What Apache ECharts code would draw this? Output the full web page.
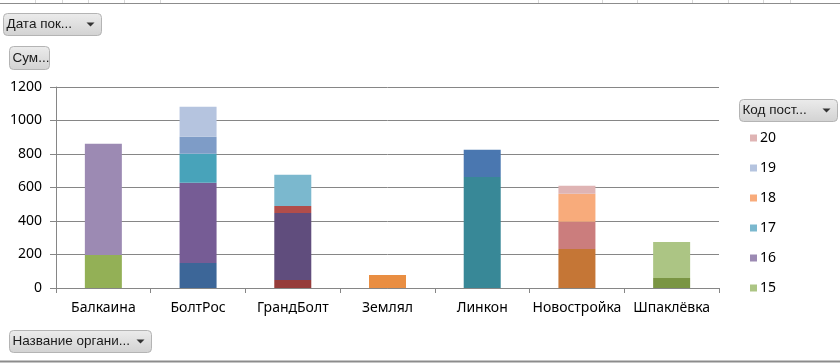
<!DOCTYPE html>
<html>
<head>
<meta charset="utf-8">
<script src="https://cdn.jsdelivr.net/npm/echarts@6/dist/echarts.min.js"></script>
<style>
  html, body { margin: 0; padding: 0; background: #fff; }
  #myChart { width: 840px; height: 363px; }
</style>
</head>
<body>
<div id="myChart"></div>
<script>
// organisations (x axis)
const orgs = ['Балкаина', 'БолтРос', 'ГрандБолт', 'Землял', 'Линкон', 'Новостройка', 'Шпаклёвка']
// supplier codes, one series each; stacked bottom -> top in this order
const codes = ['1', '2', '3', '4', '5', '6', '7', '8', '9', '10', '11', '12', '13', '14', '15', '16', '17', '18', '19', '20']
// which organisation every code belongs to, and its sum
const codeOrg = ['БолтРос', 'ГрандБолт', 'Шпаклёвка', 'ГрандБолт', 'Линкон', 'Новостройка', 'Линкон', 'ГрандБолт', 'Балкаина', 'БолтРос',
  'БолтРос', 'Землял', 'БолтРос', 'Новостройка', 'Шпаклёвка', 'Балкаина', 'ГрандБолт', 'Новостройка', 'БолтРос', 'Новостройка']
const codeSum = [150, 48, 60, 400, 662, 233, 163, 42, 197, 478, 173, 78, 102, 162, 215, 664, 186, 167, 179, 48]
const yTicks = [0, 200, 400, 600, 800, 1000, 1200]
// legend only fits the last six codes
const legendCodes = ['20', '19', '18', '17', '16', '15']

const colors = ['#3C6698', '#963C3A', '#7A9543', '#604D7D', '#388897', '#C57636', '#4A77B0', '#B14D4A', '#93B056', '#765C95',
  '#48A3BA', '#E98E42', '#7E9CC7', '#CB7D7D', '#ACC584', '#9C8AB3', '#7BB8CE', '#F8AB7B', '#B5C4DF', '#DFB4B4']

const font = 'Noto Sans'
const btnFont = 'Liberation Sans'

function fieldButton (x, y, w, h, label, arrow) {
  let children = [
    {
      type: 'rect',
      shape: { x: 0, y: 0, width: w, height: h, r: 4 },
      style: {
        fill: new echarts.graphic.LinearGradient(0, 0, 0, 1, [
          { offset: 0, color: '#ececec' },
          { offset: 1, color: '#d2d2d2' }
        ]),
        stroke: '#b4b4b4',
        lineWidth: 1
      }
    },
    {
      type: 'text',
      x: 3,
      y: h / 2,
      style: { text: label, font: '13.5px ' + btnFont, fill: '#1a1a1a', textVerticalAlign: 'middle' }
    }
  ]
  if (arrow) {
    children.push({
      type: 'polygon',
      shape: { points: [[w - 15, h / 2 - 2], [w - 7, h / 2 - 2], [w - 11, h / 2 + 2]] },
      style: { fill: '#333' }
    })
  }
  return { type: 'group', x: x, y: y, children: children }
}

let myChart = echarts.init(document.getElementById('myChart'))

let series = codes.map(function (code, i) {
  let data = orgs.map(function (org) {
    return codeOrg[i] === org ? codeSum[i] : '-'
  })
  return {
    name: code,
    type: 'bar',
    stack: 'sum',
    barWidth: 37,
    itemStyle: { color: colors[i] },
    emphasis: { disabled: true },
    data: data
  }
})

let cellLines = []
;[35, 62, 88, 124, 160, 538, 602, 637, 692, 728, 763, 790].forEach(function (x) {
  cellLines.push({ type: 'line', shape: { x1: x + 0.5, y1: 0, x2: x + 0.5, y2: 3 }, style: { stroke: '#d8d8d8', lineWidth: 1 } })
})

myChart.setOption({
  animation: false,
  textStyle: { fontFamily: font },
  color: colors,
  grid: { left: 56, right: 121, top: 87, bottom: 75 },
  legend: {
    orient: 'vertical',
    left: 745,
    top: 125,
    data: legendCodes.map(function (c) {
      return { name: c, itemStyle: { color: colors[codes.indexOf(c)], borderWidth: 0 } }
    }),
    icon: 'rect',
    itemWidth: 7,
    itemHeight: 7,
    itemGap: 14,
    itemStyle: { borderWidth: 0 },
    textStyle: { fontFamily: font, fontSize: 14, color: '#000', lineHeight: 16, padding: [0, 0, 0, -2] }
  },
  xAxis: {
    type: 'category',
    data: orgs,
    axisLine: { lineStyle: { color: '#868686', width: 1 } },
    axisTick: { show: true, length: 5, lineStyle: { color: '#868686' } },
    axisLabel: { color: '#000', fontSize: 14, margin: 13, interval: 0 }
  },
  yAxis: {
    type: 'value',
    min: yTicks[0],
    max: yTicks[yTicks.length - 1],
    interval: 200,
    axisLine: { show: true, lineStyle: { color: '#868686', width: 1 } },
    axisTick: { show: true, length: 6, lineStyle: { color: '#868686' } },
    axisLabel: { color: '#000', fontSize: 14, margin: 14, formatter: function (v) { return String(v) } },
    splitLine: { lineStyle: { color: '#868686', width: 1 } }
  },
  graphic: cellLines.concat([
    { type: 'line', shape: { x1: 0, y1: 3.5, x2: 840, y2: 3.5 }, style: { stroke: '#8c8c8c', lineWidth: 1 } },
    { type: 'line', shape: { x1: 0, y1: 361.5, x2: 840, y2: 361.5 }, style: { stroke: '#8c8c8c', lineWidth: 2 } },
    fieldButton(3.5, 13.5, 98, 22, 'Дата пок...', true),
    fieldButton(9.5, 46.5, 40, 23, 'Сум...', false),
    fieldButton(9.5, 330.5, 142, 22, 'Название органи...', true),
    fieldButton(739.5, 99.5, 98, 22, 'Код пост...', true)
  ]),
  series: series
})
</script>
</body>
</html>
